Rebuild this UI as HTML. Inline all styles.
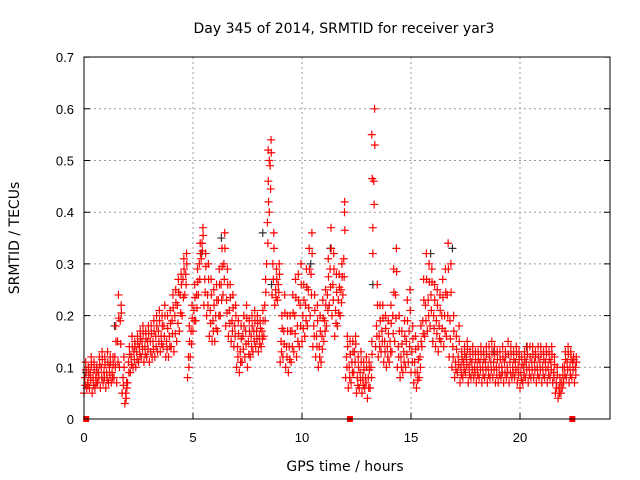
<!DOCTYPE html>
<html><head><meta charset="utf-8"><style>
body{margin:0;background:#fff;}
svg{display:block;font-family:"Liberation Sans",sans-serif;}
.lab{font-family:"DejaVu Sans","Liberation Sans",sans-serif;}
</style></head><body>
<svg id="chart" width="640" height="480" viewBox="0 0 640 480">
<rect x="0" y="0" width="640" height="480" fill="#fff"/>
<text class="lab" x="344" y="33" text-anchor="middle" font-size="14">Day 345 of 2014, SRMTID for receiver yar3</text>
<text class="lab" transform="translate(19,238) rotate(-90)" text-anchor="middle" font-size="14">SRMTID / TECUs</text>
<text class="lab" x="345" y="471" text-anchor="middle" font-size="14">GPS time / hours</text>
<g id="grid"></g><g id="ticks"></g><g id="marksK"></g><g id="marksR"></g>
<rect x="84" y="57" width="526" height="362" fill="none" stroke="#000" stroke-width="1"/>
</svg>
<script>
const xTicks=[0,5,10,15,20];
const yTicks=[0,0.1,0.2,0.3,0.4,0.5,0.6,0.7];
const yTickLabels=["0","0.1","0.2","0.3","0.4","0.5","0.6","0.7"];
const binHours=0.125;
const lo=[.05,.06,.06,.05,.06,.07,.06,.07, .06,.07,.07,.08,.07,.10,.05,.03, .07,.09,.10,.10,.11,.12,.11,.12, .11,.12,.12,.13,.13,.14,.12,.12, .14,.13,.15,.17,.20,.24,.08,.12, .17,.19,.24,.31,.22,.20,.16,.15, .15,.17,.20,.24,.18,.16,.15,.14, .10,.09,.11,.12,.10,.12,.13,.14, .13,.14,.16,.30,.40,.24,.22,.23, .11,.12,.10,.09,.11,.13,.12,.14, .15,.16,.18,.20,.14,.12,.10,.11, .15,.18,.22,.20,.16,.18,.20,.24, .08,.06,.07,.09,.05,.06,.05,.06, .04,.06,.37,.14,.12,.13,.11,.10, .11,.13,.15,.10,.08,.09,.10,.11, .09,.07,.06,.08,.14,.16,.17,.18, .15,.14,.13,.15,.14,.16,.12,.10, .08,.09,.07,.08,.09,.07,.08,.08, .07,.08,.07,.08,.07,.08,.08,.07, .07,.08,.07,.08,.07,.08,.08,.07, .06,.07,.08,.07,.08,.08,.07,.08, .07,.08,.07,.08,.07,.05,.04,.05, .07,.08,.07,.08,.07];
const mid=[.08,.07,.09,.08,.08,.09,.10,.09, .09,.10,.09,.12,.15,.19,.08,.05, .11,.12,.13,.13,.14,.15,.14,.15, .15,.15,.16,.17,.16,.18,.15,.16, .19,.20,.22,.24,.27,.28,.12,.17, .21,.24,.30,.34,.27,.24,.21,.19, .20,.23,.26,.30,.23,.21,.19,.18, .14,.13,.16,.17,.15,.16,.17,.17, .16,.17,.22,.38,.49,.30,.25,.26, .15,.17,.14,.14,.17,.20,.18,.22, .20,.22,.25,.28,.18,.16,.14,.16, .19,.24,.29,.26,.21,.23,.25,.31, .12,.10,.11,.13,.08,.09,.08,.08, .08,.10,.46,.18,.16,.17,.15,.14, .15,.20,.24,.14,.12,.13,.15,.17, .13,.11,.09,.12,.19,.22,.23,.24, .20,.19,.18,.20,.20,.24,.19,.14, .11,.12,.10,.11,.12,.10,.11,.10, .10,.11,.10,.11,.10,.11,.11,.10, .10,.10,.11,.10,.11,.10,.11,.10, .09,.10,.11,.10,.11,.11,.10,.11, .10,.11,.10,.11,.09,.07,.06,.07, .10,.11,.10,.11,.10];
const hi=[.11,.10,.12,.11,.10,.12,.13,.12, .13,.12,.12,.18,.24,.22,.12,.07, .14,.16,.15,.16,.17,.18,.17,.18, .18,.19,.20,.21,.20,.22,.20,.21, .24,.25,.27,.28,.31,.32,.18,.22, .26,.29,.34,.37,.32,.30,.27,.25, .26,.29,.33,.36,.29,.26,.24,.22, .19,.18,.20,.22,.19,.20,.21,.20, .19,.21,.27,.46,.54,.36,.29,.30, .20,.24,.20,.20,.24,.27,.28,.30, .26,.29,.33,.36,.24,.22,.20,.23, .25,.31,.37,.32,.28,.28,.30,.42, .16,.15,.15,.16,.12,.13,.11,.12, .11,.15,.60,.26,.22,.22,.20,.19, .22,.29,.33,.20,.17,.19,.23,.25, .18,.16,.14,.18,.27,.32,.30,.29, .26,.25,.24,.27,.29,.34,.30,.20, .16,.18,.13,.14,.15,.13,.14,.13, .13,.14,.13,.14,.14,.15,.14,.13, .13,.14,.13,.15,.14,.13,.14,.13, .12,.13,.14,.14,.14,.13,.14,.14, .13,.14,.13,.14,.12,.10,.08,.10, .13,.14,.13,.12,.12];
const spikeTimes=[13.2,13.22,13.25,8.45,8.5,11.95];
const spikeVals=[0.55,0.465,0.32,0.52,0.50,0.40];
const blackTimes=[0.1,1.4,5.4,6.3,8.2,8.6,10.4,11.3,13.25,15.9,16.9,18.8,20.3];
const blackVals=[0.09,0.18,0.32,0.35,0.36,0.26,0.30,0.33,0.26,0.32,0.33,0.13,0.14];
const zeroTimes=[0.1,12.2,22.4];

const X=h=>84+h*21.8, Y=v=>419-v*517;
const NS="http://www.w3.org/2000/svg";
function mk(t,a,p){const e=document.createElementNS(NS,t);for(const k in a)e.setAttribute(k,a[k]);p.appendChild(e);return e;}
const grid=document.getElementById('grid'),ticks=document.getElementById('ticks');
xTicks.forEach(t=>{const x=X(t);
 if(t>0){const g=mk('line',{x1:x,y1:57,x2:x,y2:419,stroke:'#999','stroke-dasharray':'2,3'},grid);
 
 }
 const tk=mk('line',{x1:x,y1:419,x2:x,y2:413,stroke:'#000'},ticks);
 
 
 const l=mk('text',{x:x,y:442,'text-anchor':'middle','font-size':'13'},ticks);l.textContent=t;
 
 });
yTicks.forEach((t,i)=>{const y=Y(t);
 if(t>0&&t<0.7){const g=mk('line',{x1:84,y1:y,x2:610,y2:y,stroke:'#999','stroke-dasharray':'2,3'},grid);
 
 }
 const tk=mk('path',{d:`M84 ${y}h6M610 ${y}h-6`,stroke:'#000'},ticks);
 
 
 const l=mk('text',{x:74,y:y+5,'text-anchor':'end','font-size':'13'},ticks);l.textContent=yTickLabels[i];
 
 });
function cross(h,v,col,g){const x=X(h),y=Y(v);
 const p=mk('path',{d:`M${x-4} ${y}h8M${x} ${y-4}v8`,stroke:col,'stroke-width':'1.2',fill:'none'},g);
 
 }
const gk=document.getElementById('marksK'),gr=document.getElementById('marksR');
blackTimes.forEach((t,i)=>cross(t,blackVals[i],'#333',gk));
[lo,mid,hi].forEach((arr,s)=>arr.forEach((v,i)=>cross(i*binHours+s*0.04,v,'#f00',gr)));
lo.forEach((v,i)=>cross(i*binHours+0.06,(v+mid[i])/2,'#f00',gr));
mid.forEach((v,i)=>cross(i*binHours+0.09,(v+hi[i])/2,'#f00',gr));
spikeTimes.forEach((t,i)=>cross(t,spikeVals[i],'#f00',gr));
zeroTimes.forEach(t=>{const r=mk('rect',{x:X(t)-3,y:416,width:6,height:6,fill:'#f00'},gr);
 
 });
</script>
</body></html>
